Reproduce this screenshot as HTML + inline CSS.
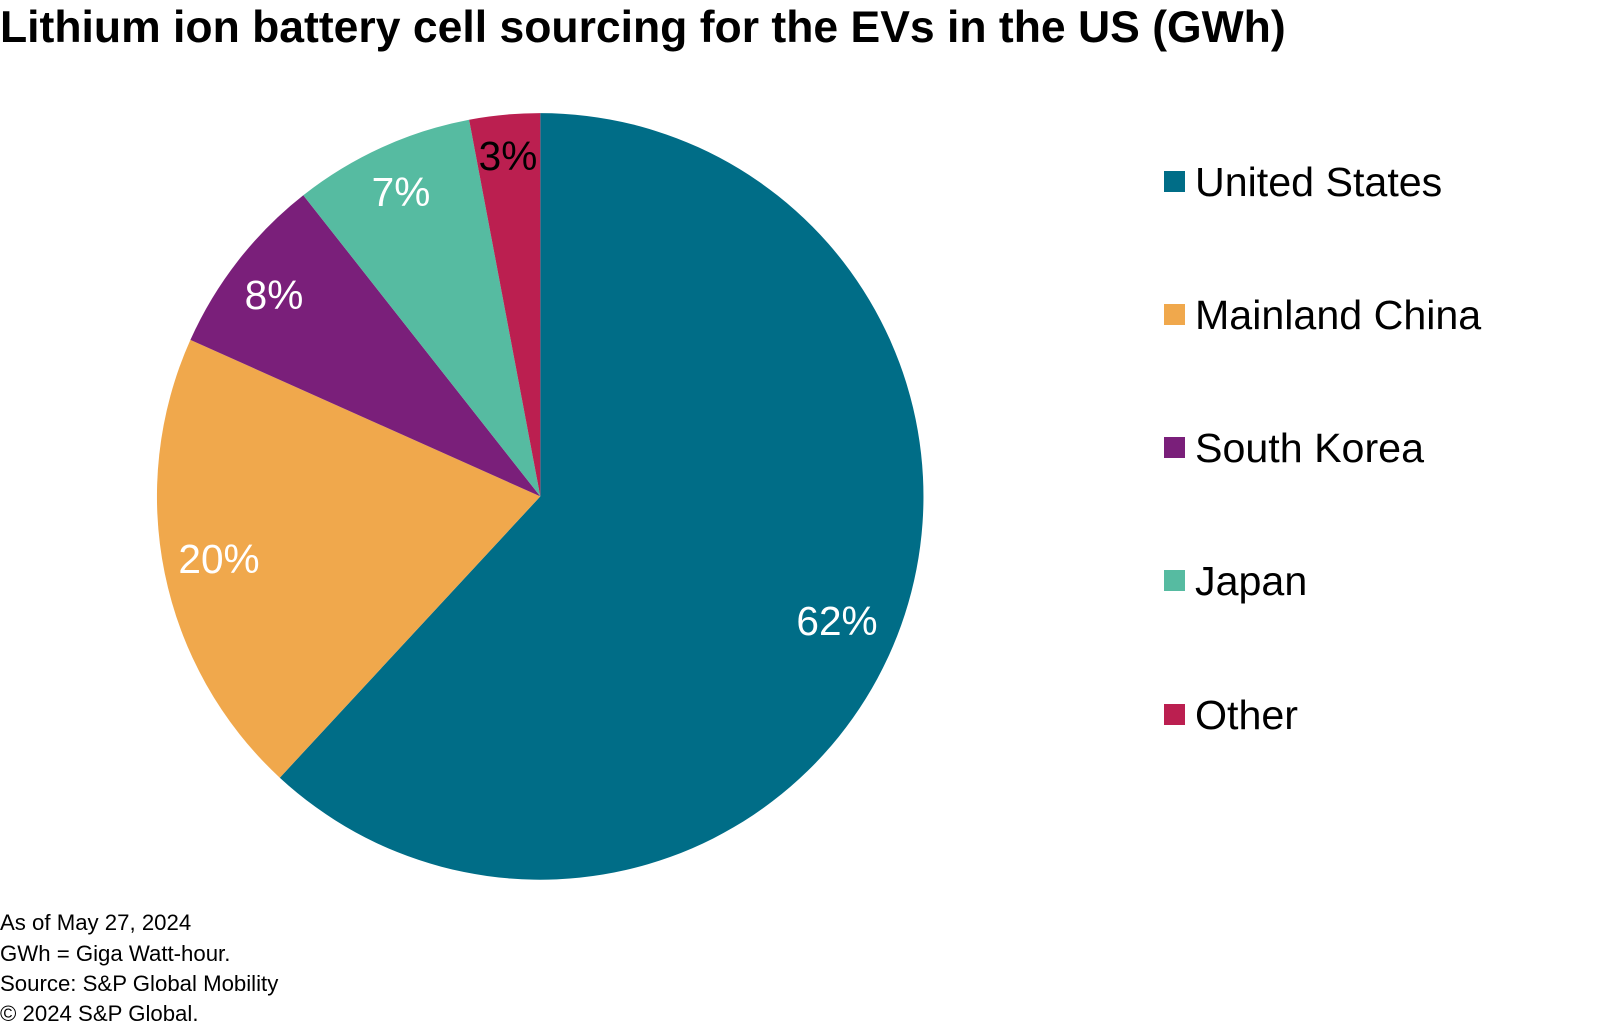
<!DOCTYPE html>
<html><head><meta charset="utf-8"><style>
body{margin:0;width:1600px;height:1025px;background:#fff;overflow:hidden;font-family:"Liberation Sans",Arial,sans-serif}
</style></head><body>
<svg width="1600" height="1025" xmlns="http://www.w3.org/2000/svg" font-family="Liberation Sans, Arial, sans-serif">
<text x="0" y="42" font-size="44.5" font-weight="bold" fill="#000">Lithium ion battery cell sourcing for the EVs in the US (GWh)</text>
<path d="M540.3,496.4 L540.3,113.1 A383.3,383.3 0 1,1 279.8,777.7 Z" fill="#006d87"/>
<path d="M540.3,496.4 L279.8,777.7 A383.3,383.3 0 0,1 190.4,339.9 Z" fill="#f0a84c"/>
<path d="M540.3,496.4 L190.4,339.9 A383.3,383.3 0 0,1 303.3,195.2 Z" fill="#7a1f7a"/>
<path d="M540.3,496.4 L303.3,195.2 A383.3,383.3 0 0,1 469.1,119.7 Z" fill="#56bba1"/>
<path d="M540.3,496.4 L469.1,119.7 A383.3,383.3 0 0,1 540.3,113.1 Z" fill="#bb1f50"/>
<g font-size="40.6" fill="#fff" text-anchor="middle">
<text x="837" y="635">62%</text>
<text x="219" y="573">20%</text>
<text x="274" y="309">8%</text>
<text x="401" y="206">7%</text>
<text x="508" y="170" fill="#000">3%</text>
</g>
<g font-size="41.2" fill="#000">
<rect x="1164" y="171" width="21" height="21" fill="#006d87"/><text x="1195" y="196">United States</text>
<rect x="1164" y="304" width="21" height="21" fill="#f0a84c"/><text x="1195" y="329">Mainland China</text>
<rect x="1164" y="437" width="21" height="21" fill="#7a1f7a"/><text x="1195" y="462">South Korea</text>
<rect x="1164" y="570" width="21" height="21" fill="#56bba1"/><text x="1195" y="595">Japan</text>
<rect x="1164" y="704" width="21" height="21" fill="#bb1f50"/><text x="1195" y="729">Other</text>
</g>
<g font-size="22.2" fill="#000">
<text x="0" y="930">As of May 27, 2024</text>
<text x="0" y="961">GWh = Giga Watt-hour.</text>
<text x="0" y="991">Source: S&amp;P Global Mobility</text>
<text x="0" y="1021">© 2024 S&amp;P Global.</text>
</g>
</svg>
</body></html>
